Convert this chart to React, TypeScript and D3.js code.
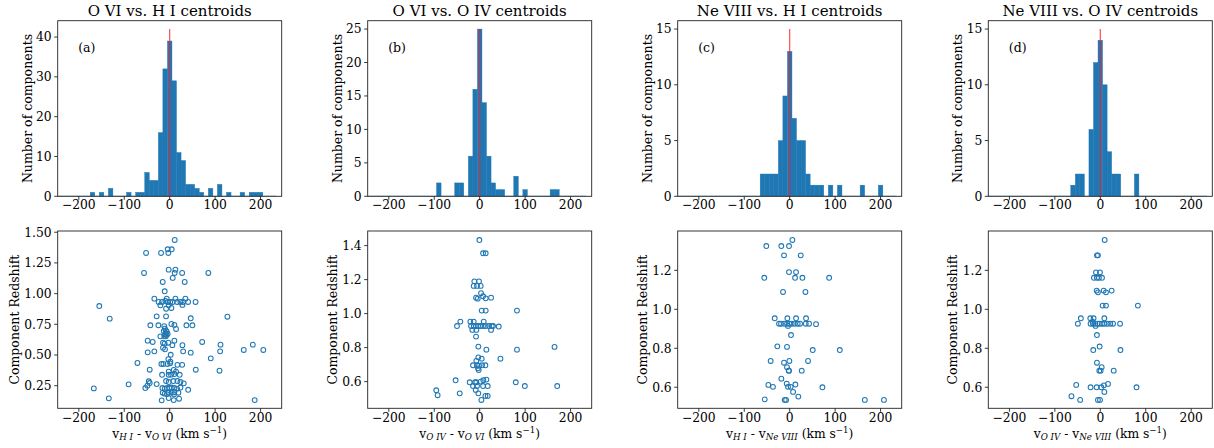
import React from "react";
import * as d3 from "d3";

const BLUE = "#1f77b4";
const FONT = "'DejaVu Serif', serif";

// panel text
const titles = [
  "O VI vs. H I centroids",
  "O VI vs. O IV centroids",
  "Ne VIII vs. H I centroids",
  "Ne VIII vs. O IV centroids",
];
const letters = ["(a)", "(b)", "(c)", "(d)"];
const subFirst = ["H I", "O IV", "H I", "O IV"];
const subSecond = ["O VI", "O VI", "Ne VIII", "Ne VIII"];

// histograms: bins are 10 km/s wide, centred on these values (only non-empty bins listed)
const binLo = -255;
const binHi = 235;
const histCentersA = [-170, -150, -130, -90, -70, -60, -50, -40, -30, -20, -10, 0, 10, 20, 30, 40, 50, 60, 70, 90, 110, 130, 160, 180, 190, 200];
const histCountsA = [1, 1, 2, 1, 1, 1, 6, 4, 4, 16, 32, 39, 29, 11, 9, 3, 3, 2, 1, 2, 3, 1, 1, 1, 1, 1];
const histCentersB = [-90, -50, -40, -20, -10, 0, 10, 20, 30, 40, 50, 80, 100, 160, 170];
const histCountsB = [2, 2, 2, 6, 16, 25, 14, 6, 2, 1, 1, 3, 1, 1, 1];
const histCentersC = [-60, -50, -40, -30, -20, -10, 0, 10, 20, 30, 40, 50, 60, 70, 90, 110, 160, 200];
const histCountsC = [2, 2, 2, 2, 5, 9, 13, 7, 5, 5, 2, 1, 1, 1, 1, 1, 1, 1];
const histCentersD = [-60, -50, -40, -20, -10, 0, 10, 20, 30, 40, 80];
const histCountsD = [1, 2, 2, 6, 12, 14, 10, 4, 2, 2, 2];

// height of the red zero-velocity marker in each histogram
const markerTops = [42, 25, 15, 15];
const histTicks = [
  [0, 10, 20, 30, 40],
  [0, 5, 10, 15, 20, 25],
  [0, 5, 10, 15],
  [0, 5, 10, 15],
];

// scatter: [velocity difference (km/s), component redshift]
const scatterA: [number, number][] = [
  [11, 1.437], [-52, 1.331], [-19, 1.331], [-4.4, 1.361], [4.4, 1.361], [-3, 1.331],
  [-56.5, 1.168], [-2.2, 1.195], [12.6, 1.195], [11, 1.168], [27.4, 1.168], [6.6, 1.128], [85, 1.168],
  [-15.4, 1.095], [33, 1.095], [-11, 1.019],
  [-33.8, 0.959], [-6.6, 0.959], [12.6, 0.959], [34.6, 0.959],
  [-24.3, 0.932], [-16.8, 0.932], [-9.5, 0.94], [-4.4, 0.932], [0.9, 0.932], [6.6, 0.932], [16.3, 0.932],
  [23.6, 0.932], [29.6, 0.932], [40.6, 0.932], [56.9, 0.932],
  [-20.5, 0.905], [-2.2, 0.905], [3.7, 0.883], [-8, 0.877], [28, 0.908],
  [-155, 0.899], [-28.7, 0.815], [-8, 0.815], [127, 0.812], [-132, 0.796], [46.3, 0.799],
  [-42.6, 0.742], [-24.9, 0.742], [3.7, 0.753], [10.3, 0.745], [36.8, 0.742], [50, 0.742], [14, 0.712],
  [-12, 0.735], [-10.5, 0.715], [-8.5, 0.7], [-6.5, 0.69], [-13, 0.695], [-9.5, 0.67], [-7, 0.665],
  [-4.5, 0.672], [-12, 0.655], [-8.5, 0.652], [-20.5, 0.652],
  [-48.5, 0.617], [-37.5, 0.606], [10.3, 0.617], [71.5, 0.606],
  [-14.7, 0.6], [-11, 0.592], [-3, 0.6], [5.9, 0.58], [28, 0.58],
  [111.8, 0.584], [183, 0.584], [163, 0.541], [206, 0.541], [111, 0.53],
  [-48.5, 0.522], [-33.8, 0.53], [2.2, 0.502], [29.6, 0.53], [46.3, 0.519], [-14.7, 0.56], [-10.3, 0.546],
  [90.4, 0.473], [-71, 0.435],
  [-18.3, 0.427], [-13.9, 0.427], [-5, 0.427], [0.9, 0.432], [17, 0.42], [27.4, 0.42], [-3, 0.467], [1.5, 0.446],
  [-44, 0.38], [57.4, 0.38], [109.6, 0.372],
  [-16.8, 0.339], [-2.2, 0.339], [10.3, 0.345], [3, 0.34], [22, 0.339], [-2.2, 0.364], [8.8, 0.378], [14, 0.364],
  [-46, 0.286], [-44, 0.272], [-28.7, 0.263],
  [-8, 0.288], [-2.2, 0.28], [8.1, 0.288], [17, 0.288], [23.6, 0.28], [-90.4, 0.261], [30.9, 0.269],
  [-53.6, 0.231], [-49, 0.25], [-167, 0.228],
  [-16.1, 0.231], [-11, 0.225], [-5.9, 0.231], [-0.7, 0.231], [4.4, 0.235], [10.3, 0.231], [16.3, 0.226], [23.6, 0.235],
  [40.6, 0.217],
  [-15.4, 0.193], [-11, 0.185], [-2.9, 0.195], [4.4, 0.193], [10.3, 0.197], [19.1, 0.193],
  [-5.9, 0.182], [9.6, 0.18],
  [-17.6, 0.131], [-2.2, 0.149], [8.8, 0.133], [20.6, 0.144], [-134, 0.147], [187, 0.133],
];
const scatterB: [number, number][] = [
  [-0.7, 1.433], [7.4, 1.355], [13.2, 1.355],
  [-11.8, 1.19], [-1.5, 1.19], [-13.2, 1.163], [-5.9, 1.163], [2.2, 1.163], [2.9, 1.12],
  [-8, 1.094], [-4.4, 1.088], [7.4, 1.102], [13.2, 1.09], [25, 1.094],
  [4.4, 1.018], [13.2, 1.018], [82, 1.018],
  [-42.6, 0.953], [-20.6, 0.953], [-13.2, 0.953], [8.8, 0.953],
  [-50, 0.927], [-19, 0.927], [-13.2, 0.927], [-8, 0.927], [-3.7, 0.927], [1.5, 0.927], [7.4, 0.927],
  [13.2, 0.927], [20.6, 0.927], [26.5, 0.927], [29.4, 0.927], [41.9, 0.924],
  [-16.2, 0.904], [-7.4, 0.904], [25, 0.904], [-8, 0.865],
  [-3, 0.806], [14.7, 0.788], [82, 0.788], [164.7, 0.804],
  [-3, 0.743], [4.4, 0.735], [45.6, 0.735], [-7.4, 0.722],
  [-14.7, 0.696], [-5.9, 0.696], [-1.5, 0.694], [5.1, 0.696], [12.5, 0.696], [-3.7, 0.678], [-2.2, 0.668],
  [-53, 0.608], [-22, 0.596], [-10.3, 0.596], [-7.4, 0.596], [2.2, 0.6], [8, 0.608], [14.7, 0.612],
  [-14.7, 0.574], [-5.9, 0.574], [7.4, 0.574], [17.6, 0.574],
  [79.4, 0.596], [99.3, 0.574], [170.6, 0.574],
  [-95.6, 0.549], [-92.6, 0.52], [-44, 0.531], [-8.8, 0.551], [-3, 0.531],
  [12.5, 0.516], [17.6, 0.516], [3.7, 0.492],
];
const scatterC: [number, number][] = [
  [5.9, 1.356], [-51.5, 1.325], [-18.4, 1.325], [-1.5, 1.325], [-12.5, 1.277], [24.3, 1.277],
  [-1.5, 1.191], [14, 1.191], [-55.9, 1.162], [11.8, 1.162], [28, 1.162], [86.8, 1.162],
  [-14.7, 1.089], [34.6, 1.089],
  [-33, 0.954], [-5.1, 0.954], [14, 0.954], [36, 0.954],
  [-23.5, 0.926], [-19.1, 0.926], [-11.8, 0.926], [-5.9, 0.926], [-0.7, 0.926], [4.4, 0.926],
  [11, 0.926], [17.6, 0.926], [22.8, 0.926], [35.3, 0.926], [42.6, 0.926], [58, 0.924],
  [-3.7, 0.915], [2.9, 0.868],
  [-27.2, 0.81], [-5.9, 0.807], [50.7, 0.791], [110.3, 0.791],
  [-41.9, 0.735], [-12.5, 0.726], [-0.7, 0.735], [40.4, 0.735],
  [-5.9, 0.703], [-2.2, 0.685], [-1.5, 0.685], [26.5, 0.685], [-18.4, 0.644],
  [-47, 0.612], [-36.8, 0.602], [-6.6, 0.619], [12.5, 0.614], [-3.7, 0.602], [2.2, 0.602], [72, 0.6],
  [7.4, 0.576], [19, 0.552], [-55, 0.538], [-11, 0.535], [-8, 0.535], [165.4, 0.535], [207.4, 0.535],
];
const scatterD: [number, number][] = [
  [9.6, 1.356], [-7.4, 1.277], [-5.2, 1.277], [-9.6, 1.19], [-0.7, 1.19],
  [-14, 1.162], [-7.4, 1.162], [-3, 1.162], [3.7, 1.162],
  [-8, 1.096], [7.4, 1.096], [25, 1.096], [-5.2, 1.087], [12.5, 1.087],
  [5.2, 1.019], [12.5, 1.019], [82.7, 1.019],
  [-42.8, 0.954], [-22, 0.954], [-14.8, 0.954], [8.9, 0.954],
  [-49.4, 0.926], [-21.4, 0.926], [-16.2, 0.926], [-11, 0.926], [-5.9, 0.926], [-1.5, 0.926],
  [3.7, 0.926], [8.9, 0.926], [14.8, 0.926], [22, 0.926], [28, 0.926], [43.5, 0.926],
  [-17, 0.936], [-10.3, 0.915], [-7.4, 0.868],
  [-15.5, 0.791], [-1.5, 0.809], [44.3, 0.791],
  [-7.4, 0.726], [3, 0.703], [-2.2, 0.685], [0.7, 0.685], [29.5, 0.685],
  [-53, 0.612], [-21.4, 0.6], [-8, 0.6], [2.2, 0.6], [8, 0.61], [17, 0.617], [79.7, 0.6],
  [8.9, 0.576], [-63.5, 0.554], [-44.3, 0.535], [-5.2, 0.535], [-0.7, 0.535],
];

const histCenters = [histCentersA, histCentersB, histCentersC, histCentersD];
const histCounts = [histCountsA, histCountsB, histCountsC, histCountsD];
const scatters = [scatterA, scatterB, scatterC, scatterD];
const zDomains: [number, number][] = [
  [0.066, 1.51],
  [0.443, 1.486],
  [0.492, 1.402],
  [0.492, 1.402],
];
const zTicks = [
  [0.25, 0.5, 0.75, 1.0, 1.25, 1.5],
  [0.6, 0.8, 1.0, 1.2, 1.4],
  [0.6, 0.8, 1.0, 1.2],
  [0.6, 0.8, 1.0, 1.2],
];
const zFormats = [".2f", ".1f", ".1f", ".1f"];
const vTicks = [-200, -100, 0, 100, 200];

// layout
const W = 1214;
const H = 448;
const panelLeft = [57.7, 367.7, 677.7, 988.3];
const panelW = 224;
const topRow = { top: 20.7, bottom: 196.3 };
const botRow = { top: 231, bottom: 408.3 };
const yLabelOffTop = 30.5;
const yLabelOffBot = [43.7, 35.5, 35.5, 35.5];
const TICK = 3.5;
const tickFont = 12.3;
const labelFont = 12.5;

const fmtTick = (v: number) => (v < 0 ? "\u2212" + Math.abs(v) : String(v));

function Frame({ x0, x1, y0, y1 }: { x0: number; x1: number; y0: number; y1: number }) {
  return (
    <rect x={x0} y={y0} width={x1 - x0} height={y1 - y0} fill="none" stroke="#222" strokeWidth={0.9} />
  );
}

function XAxis({ x, y, gap }: { x: d3.ScaleLinear<number, number>; y: number; gap: number }) {
  return (
    <g>
      {vTicks.map((t) => (
        <g key={t}>
          <line x1={x(t)} x2={x(t)} y1={y} y2={y + TICK} stroke="#222" strokeWidth={0.9} />
          <text x={x(t)} y={y + gap} textAnchor="middle" fontSize={tickFont} fill="#000">
            {fmtTick(t)}
          </text>
        </g>
      ))}
    </g>
  );
}

function YAxis({ y, x, ticks, fmt }: { y: d3.ScaleLinear<number, number>; x: number; ticks: number[]; fmt: (v: number) => string }) {
  return (
    <g>
      {ticks.map((t) => (
        <g key={t}>
          <line x1={x - TICK} x2={x} y1={y(t)} y2={y(t)} stroke="#222" strokeWidth={0.9} />
          <text x={x - TICK - 2.5} y={y(t)} dy="0.36em" textAnchor="end" fontSize={tickFont} fill="#000">
            {fmt(t)}
          </text>
        </g>
      ))}
    </g>
  );
}

function Panel({ i }: { i: number }) {
  const x0 = panelLeft[i];
  const x1 = x0 + panelW;
  const x = d3.scaleLinear().domain([-246.5, 246.5]).range([x0, x1]);
  const clipId = `clip${i}`;
  const clipId2 = `clipb${i}`;

  // histogram
  const yh = d3
    .scaleLinear()
    .domain([0, markerTops[i] * 1.05])
    .range([topRow.bottom, topRow.top]);
  const bars = histCenters[i].map((c, k) => ({ c, n: histCounts[i][k] }));

  // scatter
  const ys = d3.scaleLinear().domain(zDomains[i]).range([botRow.bottom, botRow.top]);
  const zf = d3.format(zFormats[i]);
  const cx = (x0 + x1) / 2;

  return (
    <g>
      <defs>
        <clipPath id={clipId}>
          <rect x={x0} y={topRow.top} width={panelW} height={topRow.bottom - topRow.top} />
        </clipPath>
        <clipPath id={clipId2}>
          <rect x={x0} y={botRow.top} width={panelW} height={botRow.bottom - botRow.top} />
        </clipPath>
      </defs>

      {/* histogram */}
      <g clipPath={`url(#${clipId})`}>
        <line x1={x(binLo)} x2={x(binHi)} y1={yh(0)} y2={yh(0)} stroke={BLUE} strokeWidth={1} />
        {bars.map((b) => (
          <rect
            key={b.c}
            x={x(b.c - 5)}
            width={x(b.c + 5) - x(b.c - 5)}
            y={yh(b.n)}
            height={yh(0) - yh(b.n)}
            fill={BLUE}
            stroke={BLUE}
            strokeWidth={0.4}
          />
        ))}
        <line x1={x(0)} x2={x(0)} y1={yh(0)} y2={yh(markerTops[i])} stroke="#ff2020" strokeOpacity={0.8} strokeWidth={1.2} />
      </g>
      <Frame x0={x0} x1={x1} y0={topRow.top} y1={topRow.bottom} />
      <XAxis x={x} y={topRow.bottom} gap={12.6} />
      <YAxis y={yh} x={x0} ticks={histTicks[i]} fmt={(v) => String(v)} />
      <text x={cx} y={16.3} textAnchor="middle" fontSize={15} fill="#000">
        {titles[i]}
      </text>
      <text x={x0 + 20.5} y={51.5} fontSize={12.5} fill="#000">
        {letters[i]}
      </text>
      <text
        transform={`translate(${x0 - yLabelOffTop},${(topRow.top + topRow.bottom) / 2}) rotate(-90)`}
        textAnchor="middle"
        dy="0.36em"
        fontSize={labelFont}
        fill="#000"
      >
        Number of components
      </text>

      {/* scatter */}
      <g clipPath={`url(#${clipId2})`}>
        {scatters[i].map((p, k) => (
          <circle key={k} cx={x(p[0])} cy={ys(p[1])} r={2.4} fill="none" stroke={BLUE} strokeWidth={1.05} />
        ))}
      </g>
      <Frame x0={x0} x1={x1} y0={botRow.top} y1={botRow.bottom} />
      <XAxis x={x} y={botRow.bottom} gap={14} />
      <YAxis y={ys} x={x0} ticks={zTicks[i]} fmt={zf} />
      <text
        transform={`translate(${x0 - yLabelOffBot[i]},${(botRow.top + botRow.bottom) / 2}) rotate(-90)`}
        textAnchor="middle"
        dy="0.36em"
        fontSize={labelFont}
        fill="#000"
      >
        Component Redshift
      </text>
      <text x={cx} y={437.7} textAnchor="middle" fontSize={12.3} fill="#000">
        v
        <tspan fontSize={8.7} fontStyle="italic" dy={2.5}>
          {subFirst[i]}
        </tspan>
        <tspan dy={-2.5}> - v</tspan>
        <tspan fontSize={8.7} fontStyle="italic" dy={2.5}>
          {subSecond[i]}
        </tspan>
        <tspan dy={-2.5}> (km s</tspan>
        <tspan fontSize={8.7} dy={-4.5}>
          {"\u22121"}
        </tspan>
        <tspan dy={4.5}>)</tspan>
      </text>
    </g>
  );
}

export default function App() {
  return (
    <svg
      width={W}
      height={H}
      style={{ position: "absolute", left: 0, top: 0, background: "#fff" }}
      fontFamily={FONT}
    >
      {titles.map((_, i) => (
        <Panel key={i} i={i} />
      ))}
    </svg>
  );
}
